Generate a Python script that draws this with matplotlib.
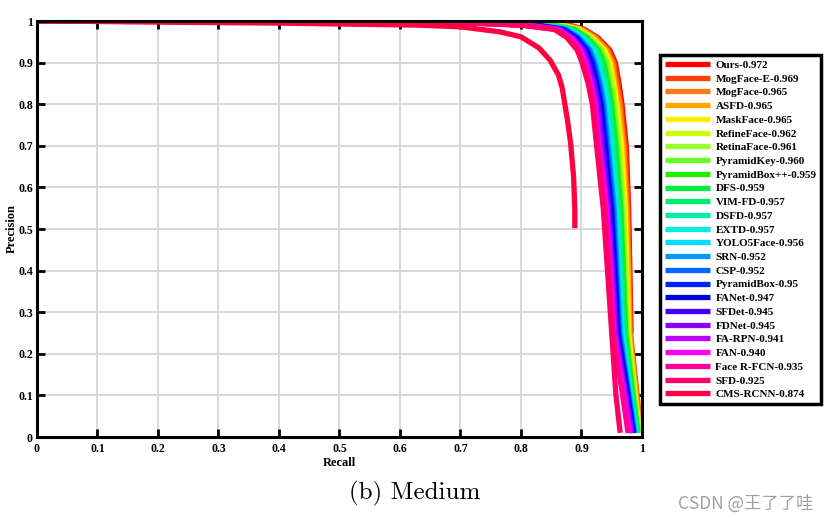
import matplotlib.pyplot as plt
from matplotlib.ticker import MultipleLocator

plt.rcParams['font.family'] = ['Liberation Serif', 'DejaVu Serif']

prec_levels = [1.0, 0.997, 0.99, 0.98, 0.96, 0.93, 0.90, 0.85, 0.80,
               0.70, 0.55, 0.40, 0.25, 0.10, 0.01]

methods = ['Ours-0.972', 'MogFace-E-0.969', 'MogFace-0.965', 'ASFD-0.965',
           'MaskFace-0.965', 'RefineFace-0.962', 'RetinaFace-0.961',
           'PyramidKey-0.960', 'PyramidBox++-0.959', 'DFS-0.959',
           'VIM-FD-0.957', 'DSFD-0.957', 'EXTD-0.957', 'YOLO5Face-0.956',
           'SRN-0.952', 'CSP-0.952', 'PyramidBox-0.95', 'FANet-0.947',
           'SFDet-0.945', 'FDNet-0.945', 'FA-RPN-0.941', 'FAN-0.940',
           'Face R-FCN-0.935', 'SFD-0.925', 'CMS-RCNN-0.874']

colors = ['#ff0000', '#ff4000', '#ff7a10', '#ffa500', '#ffee00', '#ccff00',
          '#99ff33', '#66ff22', '#22ee00', '#00ee44', '#00ee77', '#00eeaa',
          '#00eedd', '#00ddff', '#0099ff', '#0066ff', '#0022ff', '#0000dd',
          '#4400ff', '#8800ff', '#bb00ff', '#ff00ff', '#ff0099', '#ff0066',
          '#ff0040']

# recall at each precision level (curves stop where the list ends)
recalls = [
    [0, .780, .880, .905, .927, .947, .956, .962, .967, .974, .978, .980, .982],
    [0, .776, .876, .903, .925, .945, .954, .960, .965, .972, .977, .979, .981, .992, .998],
    [0, .771, .873, .901, .923, .942, .951, .957, .963, .970, .975, .978, .980, .991, .997],
    [0, .767, .870, .898, .920, .940, .949, .955, .961, .968, .974, .977, .979, .990, .997],
    [0, .763, .866, .896, .918, .938, .947, .953, .958, .966, .972, .975, .978, .989, .996],
    [0, .758, .863, .894, .916, .935, .944, .951, .956, .963, .970, .974, .977, .988, .996],
    [0, .754, .859, .892, .914, .933, .942, .949, .954, .961, .968, .972, .975, .987, .995],
    [0, .750, .856, .890, .911, .931, .939, .946, .952, .959, .966, .970, .974, .986, .994],
    [0, .745, .852, .888, .909, .928, .937, .944, .950, .957, .965, .969, .973, .985, .993],
    [0, .741, .849, .885, .907, .926, .934, .942, .948, .955, .963, .967, .971, .984, .993],
    [0, .737, .845, .883, .905, .924, .932, .940, .946, .953, .961, .966, .970, .983, .992],
    [0, .732, .842, .881, .903, .921, .930, .938, .944, .951, .959, .964, .968, .982, .991],
    [0, .728, .838, .879, .900, .919, .927, .935, .941, .948, .957, .962, .967, .981, .990],
    [0, .724, .835, .877, .898, .916, .925, .933, .939, .946, .955, .961, .965, .980, .989],
    [0, .719, .831, .875, .896, .914, .922, .931, .937, .944, .954, .959, .964, .979, .988],
    [0, .715, .828, .872, .894, .912, .920, .929, .935, .942, .952, .957, .962, .978, .987],
    [0, .711, .824, .870, .892, .909, .918, .926, .933, .940, .950, .956, .961, .977, .986],
    [0, .706, .821, .868, .889, .907, .915, .924, .931, .938, .948, .954, .959, .976, .985],
    [0, .702, .817, .866, .887, .905, .913, .922, .929, .936, .946, .952, .958, .974, .984],
    [0, .698, .814, .864, .885, .902, .910, .920, .926, .933, .944, .951, .956, .973, .983],
    [0, .693, .810, .862, .883, .900, .908, .917, .924, .931, .942, .949, .955, .971, .981],
    [0, .689, .807, .859, .881, .898, .906, .915, .922, .929, .941, .948, .953, .970, .979],
    [0, .685, .803, .857, .878, .895, .903, .913, .920, .927, .939, .946, .952, .968, .977],
    [0.01, .680, .800, .855, .876, .893, .901, .911, .918, .925, .936, .943, .950, .957, .964],
]

# CMS-RCNN has its own points
cms_recall = [0.033, 0.15, 0.40, 0.633, 0.70, 0.765, 0.80, 0.83, 0.848, 0.862,
              0.868, 0.877, 0.882, 0.887, 0.889, 0.889]
cms_precision = [1.0, 0.998, 0.995, 0.99, 0.986, 0.974, 0.962, 0.935, 0.906,
                 0.87, 0.84, 0.76, 0.707, 0.625, 0.546, 0.502]

fig = plt.figure(figsize=(8.29, 5.2), dpi=100)
ax = fig.add_axes([0.0446, 0.1596, 0.7298, 0.8])

lw = 3.8
for name, col, rec in zip(methods[:-1], colors[:-1], recalls):
    ax.plot(rec, prec_levels[:len(rec)], color=col, lw=lw, label=name,
            solid_capstyle='butt')
ax.plot(cms_recall, cms_precision, color=colors[-1], lw=lw, label=methods[-1],
        solid_capstyle='butt')

ax.set_xlim(0, 1)
ax.set_ylim(0, 1)
ax.xaxis.set_major_locator(MultipleLocator(0.1))
ax.yaxis.set_major_locator(MultipleLocator(0.1))
fmt = lambda v, p: '0' if abs(v) < 1e-9 else ('1' if abs(v - 1) < 1e-9 else f'{v:.1f}')
ax.xaxis.set_major_formatter(fmt)
ax.yaxis.set_major_formatter(fmt)
ax.grid(True, color='#d6d6d6', lw=1.3)
ax.set_axisbelow(True)
for s in ax.spines.values():
    s.set_linewidth(2.2)
ax.tick_params(direction='in', length=6, width=2, top=True, right=True,
               labelsize=8.5, pad=4)
ax.tick_params(axis='y', pad=3)
for t in ax.get_xticklabels() + ax.get_yticklabels():
    t.set_fontweight('bold')
ax.set_xlabel('Recall', fontsize=9, fontweight='bold', labelpad=2)
ax.set_ylabel('Precision', fontsize=9, fontweight='bold')
ax.yaxis.set_label_coords(-0.031, 0.5)

leg = ax.legend(loc='upper left', bbox_to_anchor=(0.796, 0.894),
                bbox_transform=fig.transFigure, fancybox=False,
                edgecolor='black', framealpha=1, borderaxespad=0,
                prop={'weight': 'bold', 'size': 8}, handlelength=4.1,
                handletextpad=0.45, labelspacing=0.355, borderpad=0.45)
leg.get_frame().set_linewidth(2.5)
for line in leg.get_lines():
    line.set_linewidth(3.8)

fig.text(0.5, 0.052, '(b) Medium', ha='center', va='center',
         fontsize=18, family='cmr10')
fig.text(0.899, 0.032, 'CSDN @王了了哇', ha='center', va='center', fontsize=12.5,
         color='#a0a0a0', family=['Noto Sans CJK SC', 'DejaVu Sans'])

fig.savefig('out.png', dpi=100)
